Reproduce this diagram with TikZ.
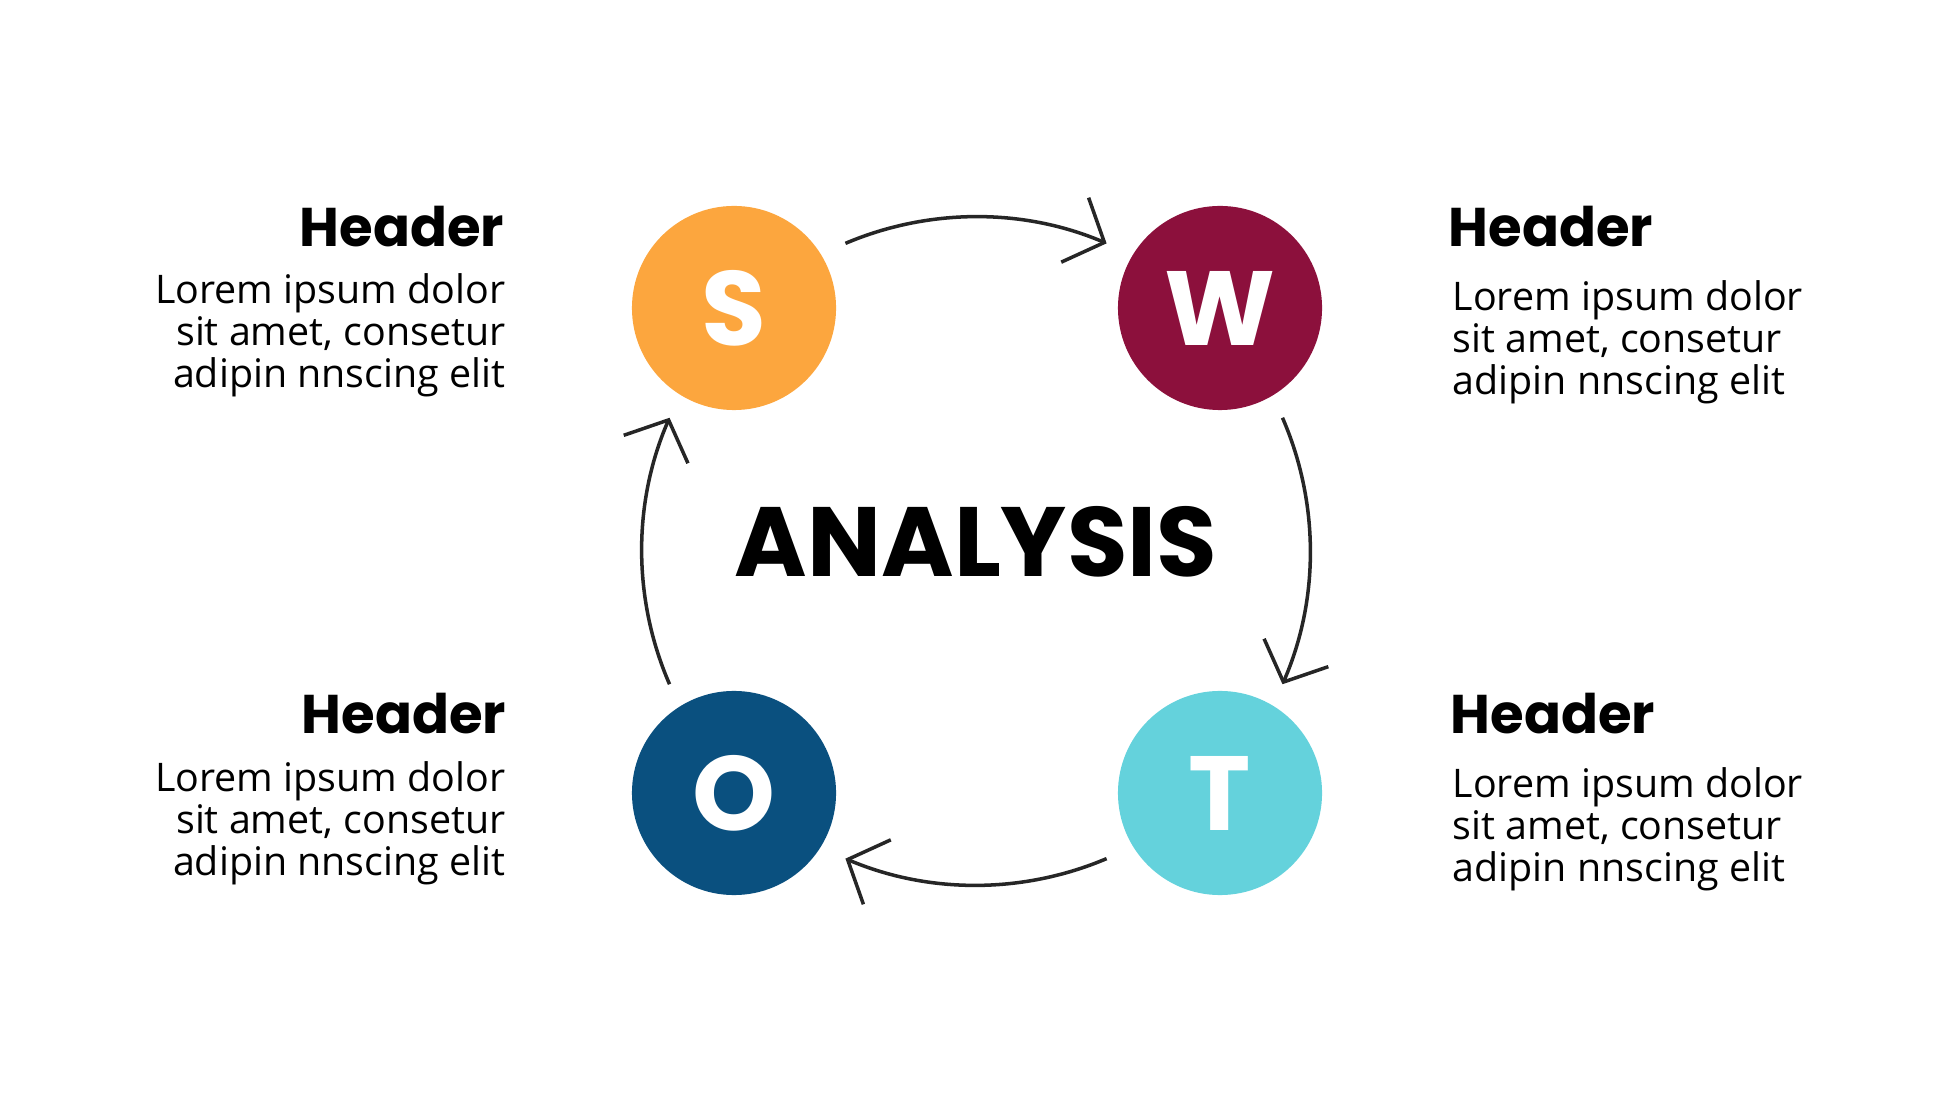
\documentclass[tikz,border=0pt]{standalone}
\usepackage{fontspec}
\setmainfont{Open Sans}
\newfontfamily\headfont{Poppins}[UprightFont=* Bold]
\usetikzlibrary{arrows.meta}
\definecolor{swotS}{RGB}{252,166,62}
\definecolor{swotW}{RGB}{140,16,60}
\definecolor{swotO}{RGB}{10,80,127}
\definecolor{swotT}{RGB}{100,210,220}
\tikzset{
  letter/.style = {circle, fill=#1, minimum size=2.04cm, inner sep=0pt, text=white,
                   font=\headfont\fontsize{30}{30}\selectfont},
  head/.style   = {font=\headfont\fontsize{15.5}{18}\selectfont, inner sep=0pt},
  body/.style   = {font=\fontsize{11.2}{11.9}\selectfont, inner sep=0pt},
  flow/.style   = {line width=1pt, draw=black!85, -{Straight Barb[length=3.2mm,width=7mm]}}
}
\begin{document}
\begin{tikzpicture}[x=0.01cm, y=-0.01cm]
  \useasboundingbox (0,0) rectangle (1946,1095);
  % letters
  \node[letter=swotS] (s) at (734,308) {S};
  \node[letter=swotW] (w) at (1220,308) {W};
  \node[letter=swotO] (o) at (734,793) {O};
  \node[letter=swotT] (t) at (1220,793) {T};
  \node[font=\headfont\fontsize{28}{28}\selectfont] (title) at (976,542) {ANALYSIS};
  % cycle
  \coordinate (c) at (976,551);
  \draw[flow] ([shift={(113:3.34cm)}]c) arc[start angle=113, end angle=67, radius=3.34cm];
  \draw[flow] ([shift={(23.5:3.34cm)}]c) arc[start angle=23.5, end angle=-23.5, radius=3.34cm];
  \draw[flow] ([shift={(-67:3.34cm)}]c) arc[start angle=-67, end angle=-113, radius=3.34cm];
  \draw[flow] ([shift={(203.5:3.34cm)}]c) arc[start angle=203.5, end angle=156.5, radius=3.34cm];
  % texts
  \node[head, anchor=base east] (hs) at (505,247) {Header};
  \node[body, anchor=north east, align=right] (ts) at (506,273) {Lorem ipsum dolor\\sit amet, consetur\\adipin nnscing elit};
  \node[head, anchor=base west] (hw) at (1448,247) {Header};
  \node[body, anchor=north west, align=left] (tw) at (1452,280) {Lorem ipsum dolor\\sit amet, consetur\\adipin nnscing elit};
  \node[head, anchor=base east] (ho) at (507,734) {Header};
  \node[body, anchor=north east, align=right] (to) at (506,761) {Lorem ipsum dolor\\sit amet, consetur\\adipin nnscing elit};
  \node[head, anchor=base west] (ht) at (1450,734) {Header};
  \node[body, anchor=north west, align=left] (tt) at (1452,767) {Lorem ipsum dolor\\sit amet, consetur\\adipin nnscing elit};
\end{tikzpicture}
\end{document}
